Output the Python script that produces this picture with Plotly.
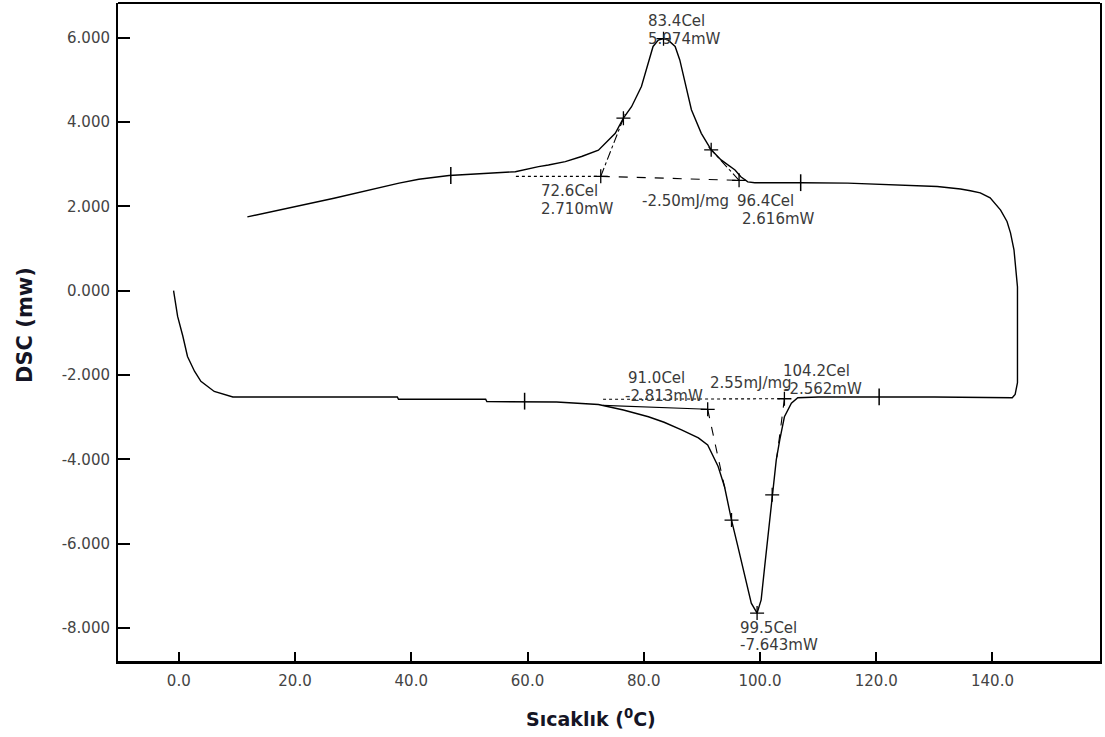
import plotly.graph_objects as go

# ---------------- data ----------------
# main DSC trace (heating segment to the right, then cooling segment back to the left)
temp = [-0.9, -0.2, 0.7, 1.5, 2.7, 3.8, 6.1, 9.3, 20.0, 37.6, 37.8, 52.8, 53.0, 65.0, 72.2,
        76.5, 80.8, 83.5, 86.5, 89.4, 91.0, 91.6, 92.8, 93.9, 95.1, 96.2, 97.4, 98.5, 99.5,
        100.2, 100.8, 101.4, 102.1, 102.8, 103.4, 104.2, 105.4, 106.5, 110.0, 120.0, 120.5,
        130.0, 143.4, 143.9, 144.3, 144.3, 143.7, 143.1, 142.5, 141.4, 139.6, 137.9, 136.2,
        134.5, 130.5, 120.8, 115.1, 107.0, 99.1, 97.9, 96.7, 95.7, 93.3, 91.6, 89.9, 88.2,
        87.1, 86.2, 85.4, 84.2, 83.4, 82.5, 81.6, 80.8, 79.6, 77.9, 76.5, 75.1, 72.8, 72.2,
        69.3, 66.5, 63.6, 61.9, 57.9, 51.6, 46.5, 41.3, 37.9, 26.7, 11.8]
dsc = [0.0, -0.61, -1.08, -1.56, -1.91, -2.15, -2.39, -2.52, -2.52, -2.52, -2.575, -2.575, -2.63, -2.64, -2.70,
       -2.83, -2.99, -3.12, -3.30, -3.49, -3.66, -3.82, -4.17, -4.65, -5.44, -6.07, -6.78, -7.41, -7.643,
       -7.33, -6.55, -5.83, -4.84, -4.01, -3.54, -2.99, -2.67, -2.54, -2.52, -2.52, -2.51,
       -2.52, -2.54, -2.46, -2.18, 0.09, 0.97, 1.37, 1.64, 1.91, 2.20, 2.32, 2.37,
       2.41, 2.47, 2.51, 2.55, 2.56, 2.56, 2.58, 2.70, 2.86, 3.10, 3.34, 3.73, 4.29,
       4.92, 5.47, 5.79, 5.94, 5.974, 5.94, 5.79, 5.39, 4.84, 4.36, 4.09, 3.73, 3.41, 3.33,
       3.18, 3.06, 2.98, 2.94, 2.82, 2.78, 2.73, 2.64, 2.55, 2.19, 1.75]

# analysis construction lines (T, mW)
up_base_T = [72.6, 96.4]
up_base_v = [2.710, 2.616]
up_ext_T = [58.0, 72.6]
up_ext_v = [2.710, 2.710]
up_tan1_T = [72.6, 76.8]
up_tan1_v = [2.710, 4.19]
up_tan2_T = [96.4, 91.0]
up_tan2_v = [2.616, 3.43]
lo_base_T = [73.0, 104.2]
lo_base_v = [-2.575, -2.562]
lo_ext_T = [73.0, 91.0]
lo_ext_v = [-2.72, -2.813]
lo_tan1_T = [91.0, 94.2]
lo_tan1_v = [-2.813, -4.85]
lo_tan2_T = [104.2, 102.9]
lo_tan2_v = [-2.562, -3.95]

# characteristic points (+) and integration limits (|)
plus_T = [72.6, 76.5, 83.4, 91.6, 96.4, 91.0, 95.1, 99.5, 102.1, 104.2]
plus_v = [2.710, 4.09, 5.974, 3.34, 2.616, -2.813, -5.44, -7.643, -4.84, -2.562]
bar_T = [46.8, 107.0, 59.5, 120.5]
bar_v = [2.73, 2.56, -2.62, -2.52]

# labels (text, T, mW at left/middle)
labels = [
    ("83.4Cel", 80.3, 6.40), ("5.974mW", 80.3, 5.97),
    ("72.6Cel", 61.9, 2.36), ("2.710mW", 61.9, 1.94),
    ("-2.50mJ/mg", 79.4, 2.13), ("96.4Cel", 95.7, 2.13), ("2.616mW", 96.6, 1.70),
    ("91.0Cel", 76.9, -2.06), ("-2.813mW", 76.5, -2.50),
    ("2.55mJ/mg", 91.1, -2.19),
    ("104.2Cel", 103.6, -1.90), ("-2.562mW", 103.8, -2.33),
    ("99.5Cel", 96.2, -8.00), ("-7.643mW", 96.2, -8.40),
]

x_tickvals = [0, 20, 40, 60, 80, 100, 120, 140]
x_ticktext = ["0.0", "20.0", "40.0", "60.0", "80.0", "100.0", "120.0", "140.0"]
y_tickvals = [6, 4, 2, 0, -2, -4, -6, -8]
y_ticktext = ["6.000", "4.000", "2.000", "0.000", "-2.000", "-4.000", "-6.000", "-8.000"]

# ---------------- figure ----------------
fig = go.Figure()
fig.add_trace(go.Scatter(x=temp, y=dsc, mode="lines",
                         line=dict(color="black", width=1.4), hoverinfo="skip"))

def seg(xs, ys, dash, w=1.1):
    fig.add_trace(go.Scatter(x=xs, y=ys, mode="lines",
                             line=dict(color="black", width=w, dash=dash), hoverinfo="skip"))

seg(up_base_T, up_base_v, "dash")
seg(up_ext_T, up_ext_v, "dot")
seg(up_tan1_T, up_tan1_v, "dashdot")
seg(up_tan2_T, up_tan2_v, "dashdot")
seg(lo_base_T, lo_base_v, "dot")
seg(lo_ext_T, lo_ext_v, "solid")
seg(lo_tan1_T, lo_tan1_v, "dash")
seg(lo_tan2_T, lo_tan2_v, "dash")

fig.add_trace(go.Scatter(x=plus_T, y=plus_v, mode="markers",
                         marker=dict(symbol="cross-thin", size=10, line=dict(color="black", width=1.3)),
                         hoverinfo="skip"))
fig.add_trace(go.Scatter(x=bar_T, y=bar_v, mode="markers",
                         marker=dict(symbol="line-ns", size=12, line=dict(color="black", width=1.5)),
                         hoverinfo="skip"))

for txt, tx, ty in labels:
    fig.add_annotation(x=tx, y=ty, xref="x", yref="y", text=txt, showarrow=False,
                       xanchor="left", yanchor="middle",
                       font=dict(family="DejaVu Sans", size=15, color="#3a3a3a"))

# axis titles (positions in paper units of the plot area)
fig.add_annotation(x=-0.0945, y=0.511, xref="paper", yref="paper", text="<b>DSC (mw)</b>",
                   showarrow=False, textangle=-90,
                   font=dict(family="DejaVu Sans", size=21, color="#151525"),
                   xanchor="center", yanchor="middle")
fig.add_annotation(x=0.482, y=-0.087, xref="paper", yref="paper",
                   text="<b>Sıcaklık (<sup>0</sup>C)</b>", showarrow=False,
                   font=dict(family="DejaVu Sans", size=19, color="#151525"),
                   xanchor="center", yanchor="middle")

fig.update_layout(
    width=1105, height=737, autosize=False,
    margin=dict(l=118, r=3, t=3, b=76),
    paper_bgcolor="white", plot_bgcolor="white",
    showlegend=False,
    xaxis=dict(range=[-10.46, 158.5], tickvals=x_tickvals, ticktext=x_ticktext,
               showline=True, linecolor="black", linewidth=3, mirror=False,
               ticks="inside", ticklen=9, tickwidth=2, tickcolor="black",
               showgrid=False, zeroline=False, ticklabelstandoff=4,
               tickfont=dict(family="DejaVu Sans", size=15, color="#444")),
    yaxis=dict(range=[-8.78, 6.82], tickvals=y_tickvals, ticktext=y_ticktext,
               showline=True, linecolor="black", linewidth=2, mirror=True,
               ticks="inside", ticklen=12, tickwidth=2, tickcolor="black",
               showgrid=False, zeroline=False, ticklabelstandoff=3,
               tickfont=dict(family="DejaVu Sans", size=15, color="#444")),
    shapes=[dict(type="line", xref="paper", yref="paper", x0=0, x1=1, y0=1, y1=1,
                 line=dict(color="black", width=2))],
)

fig.write_html("out.html", config={"displayModeBar": False},
               post_script="document.body.style.margin='0px';")
